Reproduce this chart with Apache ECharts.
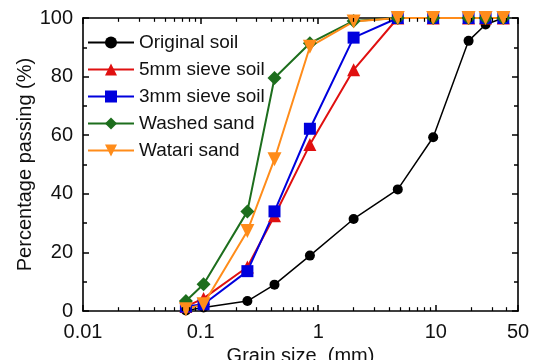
<!DOCTYPE html>
<html>
<head>
<meta charset="utf-8">
<script src="https://cdn.jsdelivr.net/npm/echarts@6/dist/echarts.min.js"></script>
<style>
  html, body { margin: 0; padding: 0; background: #fff; }
  #main { width: 546px; height: 360px; }
</style>
</head>
<body>
<div id="main"></div>
<script>
// sieve sizes (mm)
var grainSize = [0.075, 0.106, 0.25, 0.425, 0.85, 2, 4.75, 9.5, 19, 26.5, 37.5];

// percentage passing for each material
var originalSoil = [0.2, 1.2, 3.4, 9.0, 18.9, 31.4, 41.5, 59.3, 92.2, 97.8, 100];
var sieve5mm     = [1.5, 4.3, 15.0, 32.5, 56.8, 82.3, 100, 100, 100, 100, 100];
var sieve3mm     = [1.5, 2.3, 13.6, 34.0, 62.2, 93.3, 100, 100, 100, 100, 100];
var washedSand   = [3.4, 9.1, 34.0, 79.5, 91.4, 99.0, 100, 100, 100, 100, 100];
var watariSand   = [0.6, 2.3, 27.3, 51.8, 90.2, 98.8, 100, 100, 100, 100, 100];

var seriesNames = ['Original soil', '5mm sieve soil', '3mm sieve soil', 'Washed sand', 'Watari sand'];

// minor tick values for the log axis
var minorTickVals = [0.02, 0.03, 0.04, 0.05, 0.06, 0.07, 0.08, 0.09,
                     0.2, 0.3, 0.4, 0.5, 0.6, 0.7, 0.8, 0.9,
                     2, 3, 4, 5, 6, 7, 8, 9,
                     20, 30, 40];

var FONT = "'Liberation Sans', Arial, sans-serif";

function pairs(ys) {
    return grainSize.map(function (x, i) { return [x, ys[i]]; });
}

// short inward tick marks drawn as markLines (bottom and top)
var minorLines = [];
minorTickVals.forEach(function (v) {
    minorLines.push([{ coord: [v, 0] }, { coord: [v, 1.3] }]);
    minorLines.push([{ coord: [v, 100] }, { coord: [v, 98.7] }]);
});

var chart = echarts.init(document.getElementById('main'));

var axisLineStyle = { color: '#000', width: 1.6 };

chart.setOption({
    animation: false,
    textStyle: { fontFamily: FONT },
    grid: { left: 83, right: 28, top: 18, bottom: 49, containLabel: false, outerBoundsMode: 'none' },
    legend: {
        orient: 'vertical',
        left: 82,
        top: 27,
        itemWidth: 46,
        itemHeight: 15,
        itemGap: 6,
        data: seriesNames,
        textStyle: { fontFamily: FONT, fontSize: 19, color: '#111', lineHeight: 21 }
    },
    xAxis: [
        {
            type: 'log',
            min: 0.01,
            max: 50,
            position: 'bottom',
            name: 'Grain size  (mm)',
            nameLocation: 'middle',
            nameGap: 35,
            nameMoveOverlap: false,
            nameTextStyle: { fontFamily: FONT, fontSize: 20, color: '#111' },
            axisLine: { show: true, onZero: false, lineStyle: axisLineStyle },
            axisTick: { show: true, inside: true, length: 6, lineStyle: { color: '#000', width: 1.5 } },
            axisLabel: {
                fontFamily: FONT, fontSize: 20, color: '#111', margin: 11,
                showMinLabel: true, showMaxLabel: true,
                formatter: function (v) { return String(+v.toPrecision(6)); }
            },
            splitLine: { show: false }
        },
        {
            type: 'log',
            min: 0.01,
            max: 50,
            position: 'top',
            axisLine: { show: true, onZero: false, lineStyle: axisLineStyle },
            axisTick: { show: true, inside: true, length: 6, lineStyle: { color: '#000', width: 1.5 } },
            axisLabel: { show: false },
            splitLine: { show: false }
        }
    ],
    yAxis: [
        {
            type: 'value',
            min: 0,
            max: 100,
            interval: 20,
            position: 'left',
            name: 'Percentage passing (%)',
            nameLocation: 'middle',
            nameGap: 48,
            nameMoveOverlap: false,
            nameTextStyle: { fontFamily: FONT, fontSize: 20, color: '#111' },
            axisLine: { show: true, onZero: false, lineStyle: axisLineStyle },
            axisTick: { show: true, inside: true, length: 6, lineStyle: { color: '#000', width: 1.5 } },
            minorTick: { show: true, splitNumber: 2, length: 4, lineStyle: { color: '#000', width: 1.5 } },
            axisLabel: { fontFamily: FONT, fontSize: 20, color: '#111', margin: 10 },
            splitLine: { show: false }
        },
        {
            type: 'value',
            min: 0,
            max: 100,
            interval: 20,
            position: 'right',
            axisLine: { show: true, onZero: false, lineStyle: axisLineStyle },
            axisTick: { show: true, inside: true, length: 6, lineStyle: { color: '#000', width: 1.5 } },
            minorTick: { show: true, splitNumber: 2, length: 4, lineStyle: { color: '#000', width: 1.5 } },
            axisLabel: { show: false },
            splitLine: { show: false }
        }
    ],
    series: [
        {
            name: seriesNames[0],
            type: 'line',
            data: pairs(originalSoil),
            symbol: 'circle',
            symbolSize: 10,
            color: '#000000',
            lineStyle: { width: 1.5, color: '#000000' },
            markLine: {
                silent: true,
                symbol: 'none',
                label: { show: false },
                lineStyle: { color: '#000', width: 1.2, type: 'solid' },
                emphasis: { disabled: true },
                data: minorLines
            }
        },
        {
            name: seriesNames[1],
            type: 'line',
            data: pairs(sieve5mm),
            symbol: 'triangle',
            symbolSize: 13,
            color: '#e01010',
            lineStyle: { width: 2, color: '#e01010' }
        },
        {
            name: seriesNames[2],
            type: 'line',
            data: pairs(sieve3mm),
            symbol: 'rect',
            symbolSize: 12,
            color: '#0000dd',
            lineStyle: { width: 2, color: '#0000dd' }
        },
        {
            name: seriesNames[3],
            type: 'line',
            data: pairs(washedSand),
            symbol: 'diamond',
            symbolSize: 14,
            color: '#1d6e1d',
            lineStyle: { width: 2, color: '#1d6e1d' }
        },
        {
            name: seriesNames[4],
            type: 'line',
            data: pairs(watariSand),
            symbol: 'triangle',
            symbolRotate: 180,
            symbolSize: 14,
            color: '#ff8c1a',
            lineStyle: { width: 2, color: '#ff8c1a' }
        }
    ]
});
</script>
</body>
</html>
